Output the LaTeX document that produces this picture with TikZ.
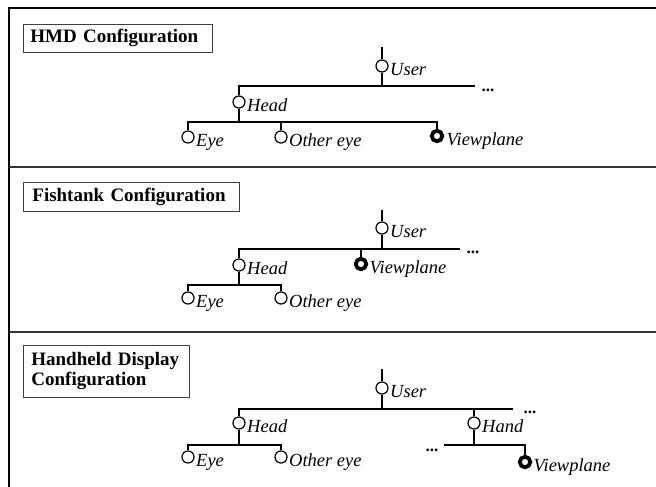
\documentclass[tikz,border=0pt]{standalone}
\usepackage{fontspec}
\setmainfont{Liberation Serif}
\begin{document}
\begin{tikzpicture}[x=1pt,y=-1pt,
  joint/.style={circle, draw, line width=1.2pt, minimum size=12pt, inner sep=0pt, fill=white},
  viewjoint/.style={circle, draw, line width=3.8pt, minimum size=10.5pt, inner sep=0pt, fill=white},
  lbl/.style={font=\fontsize{18.5}{18.5}\selectfont\itshape, anchor=base west, inner sep=0pt},
  link/.style={line width=1.5pt},
  frameline/.style={line width=2pt},
  sepline/.style={line width=1.3pt, black!80},
  title/.style={draw, line width=0.8pt, black!75, text=black, anchor=north west,
    font=\fontsize{19}{20}\selectfont\bfseries, align=left, inner ysep=0pt},
  dots/.style={font=\fontsize{17}{17}\selectfont\bfseries, inner sep=0pt}
]
\useasboundingbox (0,0) rectangle (656,487);

% outer frame and panel separators
\draw[frameline] (9,487) -- (9,8.5) -- (656,8.5);
\draw[sepline] (9,167) -- (656,167);
\draw[sepline] (9,332) -- (656,332);

% ---------------- HMD configuration ----------------
\node[title, text width=175pt, inner xsep=7pt, minimum height=28pt] (t1) at (23,24) {HMD Configuration};

\coordinate (u1top) at (382,47);
\coordinate (b1) at (0,86);
\coordinate (b1end) at (475,86);
\coordinate (hb1) at (0,122);
\node[joint] (u1) at (382,66) {};
\node[joint] (h1) at (239,102) {};
\node[joint] (e1) at (188,137) {};
\node[joint] (o1) at (281,137) {};
\node[viewjoint] (v1) at (437,136) {};
\node[dots] (d1) at (488,90) {...};

\node[lbl] (u1l) at ([xshift=8pt,yshift=-9.5pt]u1.center) {User};
\node[lbl] (h1l) at ([xshift=8pt,yshift=-9.5pt]h1.center) {Head};
\node[lbl] (e1l) at ([xshift=8pt,yshift=-9.5pt]e1.center) {Eye};
\node[lbl] (o1l) at ([xshift=8pt,yshift=-9.5pt]o1.center) {Other eye};
\node[lbl] (v1l) at ([xshift=9.5pt,yshift=-9.5pt]v1.center) {Viewplane};

\draw[link] (u1top) -- (u1);
\draw[link] (u1) -- (u1 |- b1);
\draw[link] (h1) -- (h1 |- b1) -- (b1end);
\draw[link] (h1) -- (h1 |- hb1);
\draw[link] (e1) -- (e1 |- hb1) -- (v1 |- hb1) -- (v1);
\draw[link] (o1) -- (o1 |- hb1);

% ---------------- Fishtank configuration ----------------
\node[title, text width=198pt, inner xsep=9pt, minimum height=29pt] (t2) at (23,182) {Fishtank Configuration};

\coordinate (u2top) at (382,210);
\coordinate (b2) at (0,249);
\coordinate (b2end) at (460,249);
\coordinate (hb2) at (0,285);
\node[joint] (u2) at (382,228) {};
\node[viewjoint] (v2) at (361,264) {};
\node[joint] (h2) at (239,265) {};
\node[joint] (e2) at (188,298) {};
\node[joint] (o2) at (281,298) {};
\node[dots] (d2) at (473,252) {...};

\node[lbl] (u2l) at ([xshift=8pt,yshift=-9.5pt]u2.center) {User};
\node[lbl] (v2l) at ([xshift=8.5pt,yshift=-9.5pt]v2.center) {Viewplane};
\node[lbl] (h2l) at ([xshift=8pt,yshift=-9.5pt]h2.center) {Head};
\node[lbl] (e2l) at ([xshift=8pt,yshift=-9.5pt]e2.center) {Eye};
\node[lbl] (o2l) at ([xshift=8pt,yshift=-9.5pt]o2.center) {Other eye};

\draw[link] (u2top) -- (u2);
\draw[link] (u2) -- (u2 |- b2);
\draw[link] (h2) -- (h2 |- b2) -- (b2end);
\draw[link] (v2) -- (v2 |- b2);
\draw[link] (h2) -- (h2 |- hb2);
\draw[link] (e2) -- (e2 |- hb2) -- (o2 |- hb2) -- (o2);

% ---------------- Handheld display configuration ----------------
\node[title, text width=150pt, inner xsep=8pt, minimum height=52pt] (t3) at (23,345) {Handheld Display\\Configuration};

\coordinate (u3top) at (382,369);
\coordinate (b3) at (0,409);
\coordinate (b3end) at (513,409);
\coordinate (hb3) at (0,445);
\coordinate (hdstart) at (444,445);
\node[joint] (u3) at (382,388) {};
\node[joint] (h3) at (239,423) {};
\node[joint] (hd3) at (474,423) {};
\node[joint] (e3) at (188,457) {};
\node[joint] (o3) at (281,457) {};
\node[viewjoint] (v3) at (525,462) {};
\node[dots] (d3) at (530,412) {...};
\node[dots] (d4) at (432,450) {...};

\node[lbl] (u3l) at ([xshift=8pt,yshift=-9.5pt]u3.center) {User};
\node[lbl] (h3l) at ([xshift=8pt,yshift=-9.5pt]h3.center) {Head};
\node[lbl] (hd3l) at ([xshift=8pt,yshift=-9.5pt]hd3.center) {Hand};
\node[lbl] (e3l) at ([xshift=8pt,yshift=-9.5pt]e3.center) {Eye};
\node[lbl] (o3l) at ([xshift=8pt,yshift=-9.5pt]o3.center) {Other eye};
\node[lbl] (v3l) at ([xshift=8.5pt,yshift=-9.5pt]v3.center) {Viewplane};

\draw[link] (u3top) -- (u3);
\draw[link] (u3) -- (u3 |- b3);
\draw[link] (h3) -- (h3 |- b3) -- (b3end);
\draw[link] (hd3) -- (hd3 |- b3);
\draw[link] (hd3) -- (hd3 |- hb3);
\draw[link] (hdstart) -- (v3 |- hb3) -- (v3);
\draw[link] (h3) -- (h3 |- hb3);
\draw[link] (e3) -- (e3 |- hb3) -- (o3 |- hb3) -- (o3);

\end{tikzpicture}
\end{document}
